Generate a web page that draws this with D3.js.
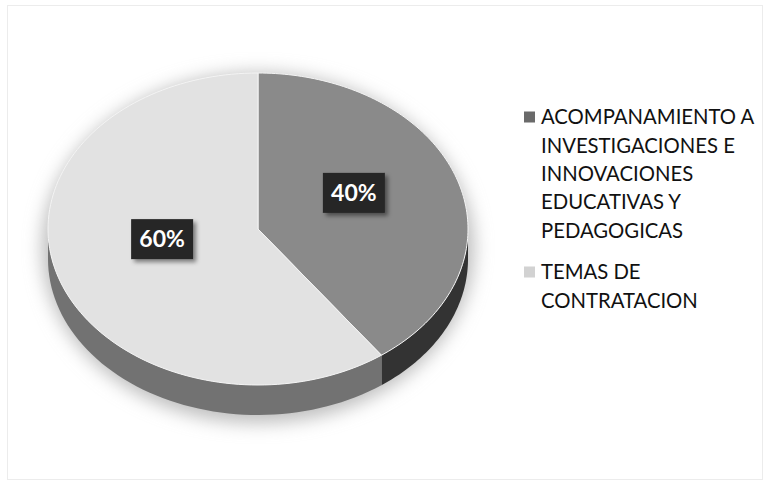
<!DOCTYPE html>
<html>
<head>
<meta charset="utf-8">
<script src="https://cdn.jsdelivr.net/npm/d3@7"></script>
<style>
  body { margin: 0; background: #fff; }
  svg { display: block; font-family: Lato, "Open Sans", sans-serif; }
</style>
</head>
<body>
<svg id="chart"></svg>
<script>
// data
var categories = ["ACOMPANAMIENTO A INVESTIGACIONES E INNOVACIONES EDUCATIVAS Y PEDAGOGICAS", "TEMAS DE CONTRATACION"];
var values = [40, 60];
var legendLines = [
    ["ACOMPANAMIENTO A", "INVESTIGACIONES E", "INNOVACIONES", "EDUCATIVAS Y", "PEDAGOGICAS"],
    ["TEMAS DE", "CONTRATACION"]
];

var make_pie_3d = function () {

    var width = 769, height = 486;
    var cx = 258, cy = 229, rx = 210, ry = 156, depth = 30;

    var topColor = d3.scaleOrdinal().domain(categories).range(["#8a8a8a", "#e2e2e2"]);
    var sideColor = d3.scaleOrdinal().domain(categories).range(["#333333", "#727272"]);
    var legendColor = d3.scaleOrdinal().domain(categories).range(["#6a6a6a", "#d2d2d2"]);

    var svg = d3.select("#chart")
        .attr("width", width)
        .attr("height", height)
        .attr("viewBox", [0, 0, width, height]);

    var defs = svg.append("defs");
    defs.append("filter").attr("id", "soft")
        .attr("x", "-20%").attr("y", "-20%").attr("width", "140%").attr("height", "140%")
        .append("feGaussianBlur").attr("stdDeviation", 9);
    var sh = defs.append("filter").attr("id", "boxshadow")
        .attr("x", "-30%").attr("y", "-30%").attr("width", "160%").attr("height", "160%");
    sh.append("feDropShadow").attr("dx", 3).attr("dy", 3).attr("stdDeviation", 2)
        .attr("flood-color", "#000").attr("flood-opacity", 0.45);

    // faint frame of the scanned page
    svg.append("rect")
        .attr("x", 7.5).attr("y", 5.5).attr("width", width - 14).attr("height", height - 12)
        .attr("fill", "none").attr("stroke", "#ececec");

    var data = categories.map(function (c, i) { return { key: c, value: values[i] }; });
    var arcs = d3.pie().sort(null).value(d => d.value)(data);

    var px = a => cx + rx * Math.sin(a);
    var py = a => cy - ry * Math.cos(a);

    // soft shadow under the pie
    svg.append("ellipse")
        .attr("cx", cx).attr("cy", cy + depth / 2 + 4)
        .attr("rx", rx + 6).attr("ry", ry + depth / 2 + 4)
        .attr("fill", "#bdbdbd")
        .attr("filter", "url(#soft)");

    // side walls, only the front half is visible
    var sides = svg.append("g");
    arcs.forEach(function (d) {
        var a0 = Math.max(d.startAngle, Math.PI / 2);
        var a1 = Math.min(d.endAngle, Math.PI * 3 / 2);
        if (a1 <= a0) return;
        var steps = d3.range(0, 61).map(k => a0 + (a1 - a0) * k / 60);
        var p = d3.path();
        steps.forEach(function (a, k) {
            if (k === 0) p.moveTo(px(a), py(a)); else p.lineTo(px(a), py(a));
        });
        steps.slice().reverse().forEach(function (a) { p.lineTo(px(a), py(a) + depth); });
        p.closePath();
        sides.append("path")
            .attr("d", p.toString())
            .attr("fill", sideColor(d.data.key));
    });

    // top faces
    var tops = svg.append("g");
    arcs.forEach(function (d) {
        var steps = d3.range(0, 121).map(k => d.startAngle + (d.endAngle - d.startAngle) * k / 120);
        var p = d3.path();
        p.moveTo(cx, cy);
        steps.forEach(a => p.lineTo(px(a), py(a)));
        p.closePath();
        tops.append("path")
            .attr("d", p.toString())
            .attr("fill", topColor(d.data.key))
            .attr("stroke", "#f4f4f4")
            .attr("stroke-width", 1);
    });

    // data labels
    var fmt = d3.format(".0%");
    var total = d3.sum(values);
    var labels = svg.append("g");
    arcs.forEach(function (d) {
        var mid = (d.startAngle + d.endAngle) / 2;
        var lx = cx + rx * 0.48 * Math.sin(mid);
        var ly = cy - ry * 0.48 * Math.cos(mid) - 13;
        var g = labels.append("g").attr("transform", `translate(${lx},${ly})`);
        g.append("rect")
            .attr("x", -31).attr("y", -20).attr("width", 62).attr("height", 40)
            .attr("fill", "#262626")
            .attr("filter", "url(#boxshadow)");
        g.append("text")
            .attr("text-anchor", "middle")
            .attr("dy", "0.36em")
            .attr("fill", "#fff")
            .attr("font-weight", "bold")
            .attr("font-size", 23)
            .text(fmt(d.value / total));
    });

    // legend
    var legend = svg.append("g").attr("transform", "translate(524,0)");
    var lineH = 28.3;
    var starts = [117, 272];
    categories.forEach(function (c, i) {
        var g = legend.append("g").attr("transform", `translate(0,${starts[i]})`);
        g.append("rect")
            .attr("x", 0).attr("y", -5.5).attr("width", 11).attr("height", 11)
            .attr("fill", legendColor(c));
        g.append("text")
            .attr("font-size", 20.3)
            .attr("fill", "#111")
            .selectAll("tspan")
            .data(legendLines[i])
            .join("tspan")
            .attr("x", 17)
            .attr("y", (t, k) => k * lineH)
            .attr("dy", "0.36em")
            .text(t => t);
    });
};

make_pie_3d();
</script>
</body>
</html>
